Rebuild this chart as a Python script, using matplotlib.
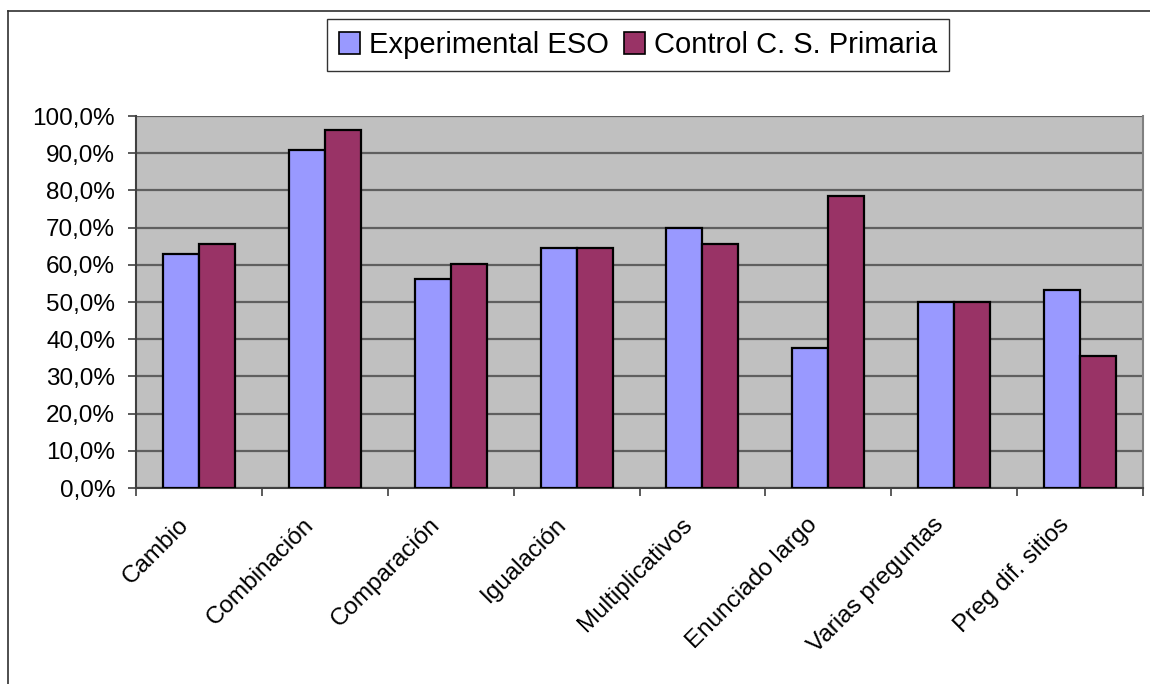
import matplotlib
matplotlib.use("Agg")
import matplotlib.pyplot as plt
import numpy as np
from matplotlib.lines import Line2D
from matplotlib.ticker import FuncFormatter, FixedLocator

plt.rcParams['font.family'] = ['Liberation Sans', 'DejaVu Sans']

categories = ["Cambio", "Combinación", "Comparación", "Igualación",
              "Multiplicativos", "Enunciado largo", "Varias preguntas",
              "Preg dif. sitios"]
experimental_eso = [62.8, 90.8, 56.3, 64.5, 69.9, 37.6, 50.0, 53.1]
control_primaria = [65.5, 96.2, 60.1, 64.5, 65.6, 78.4, 50.0, 35.4]
series_names = ["Experimental ESO", "Control C. S. Primaria"]
y_ticks = [0, 10, 20, 30, 40, 50, 60, 70, 80, 90, 100]

W, H = 1150, 684
fig = plt.figure(figsize=(W / 100, H / 100), dpi=100)
ax = fig.add_axes([136 / W, 1 - 488 / H, (1143 - 136) / W, (488 - 116) / H])
ax.set_facecolor("#C0C0C0")

x = np.arange(len(categories))
bw = 1 / 3.5
ax.bar(x - bw / 2, experimental_eso, width=bw, color="#9999FF",
       edgecolor="black", linewidth=1.6, zorder=3, label=series_names[0])
ax.bar(x + bw / 2, control_primaria, width=bw, color="#993366",
       edgecolor="black", linewidth=1.6, zorder=3, label=series_names[1])

ax.set_xlim(-0.5, len(categories) - 0.5)
ax.set_ylim(0, 100)
ax.yaxis.set_major_locator(FixedLocator(y_ticks))
ax.yaxis.set_major_formatter(FuncFormatter(lambda v, p: f"{v:.1f}%".replace(".", ",")))
ax.grid(axis="y", color="#5F5F5F", linewidth=1.6, zorder=1)
ax.tick_params(axis="y", direction="out", length=6, width=1.2, color="#404040",
               labelsize=17.5, pad=9)

# category ticks at group boundaries, labels at group centres
ax.set_xticks(np.arange(-0.5, len(categories), 1.0))
ax.set_xticklabels([])
ax.tick_params(axis="x", direction="out", length=6, width=1.2, color="#404040")
for xi, name in zip(x, categories):
    ax.annotate(name, xy=(xi, 0), xycoords=("data", "axes fraction"),
                xytext=(-10, -24), textcoords="offset points",
                rotation=45, ha="right", va="center", rotation_mode="anchor",
                fontsize=17.5)

for side in ("left", "bottom"):
    ax.spines[side].set_color("#404040")
    ax.spines[side].set_linewidth(1.5)
ax.spines["top"].set_visible(False)
ax.spines["right"].set_color("#808080")
ax.spines["right"].set_linewidth(1.5)

leg = fig.legend(loc="center", bbox_to_anchor=(638 / W, 1 - 45 / H), ncol=2,
                 frameon=True, fancybox=False, fontsize=21,
                 handlelength=0.75, handleheight=0.75, handletextpad=0.3,
                 columnspacing=0.5, borderpad=0.4, borderaxespad=0)
leg.get_frame().set_edgecolor("black")
leg.get_frame().set_linewidth(1.0)
for h in leg.legend_handles:
    h.set_linewidth(1.2)

# outer chart frame (top and left edges visible)
fig.add_artist(Line2D([8 / W, 1.0], [1 - 11 / H, 1 - 11 / H], color="#303030",
                      linewidth=1.2, transform=fig.transFigure))
fig.add_artist(Line2D([8 / W, 8 / W], [0, 1 - 11 / H], color="#303030",
                      linewidth=1.2, transform=fig.transFigure))

fig.savefig("out.png", dpi=100, facecolor="white")
